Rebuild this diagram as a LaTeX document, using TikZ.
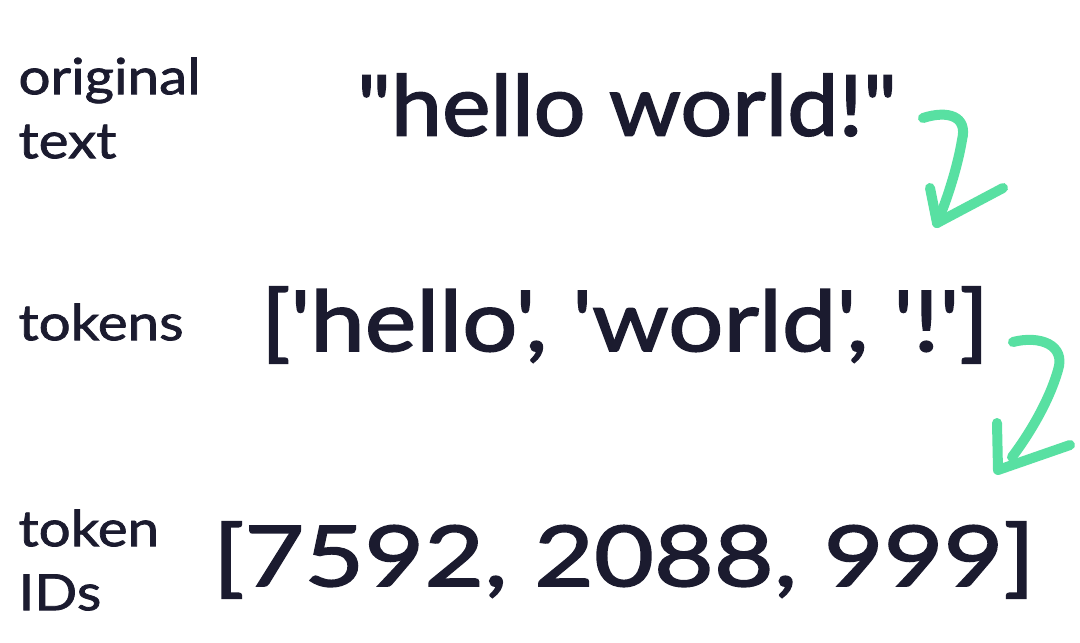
\documentclass[tikz,border=0pt]{standalone}
\usepackage{fontspec}
\newfontfamily\hand{Lato}[FakeStretch=1.13,FakeBold=1.5]
\newfontfamily\handquote{Lato}[FakeStretch=1.09,FakeBold=2]
\newfontfamily\handtok{Lato}[FakeStretch=1.16,FakeBold=2]
\newfontfamily\handid{Lato}[FakeStretch=1.23,FakeBold=2]
\definecolor{ink}{HTML}{1B1B2F}
\definecolor{mint}{HTML}{58E0A2}

\begin{document}
\begin{tikzpicture}[x=1pt,y=-1pt,
  tag/.style={anchor=west,align=left,text=ink,font=\hand\fontsize{50}{64}\selectfont},
  seq/.style={text=ink,font=\fontsize{84}{90}\selectfont},
  squiggle/.style={draw=mint,line width=10pt,line cap=round,line join=round}]
  \useasboundingbox [fill=white] (0,0) rectangle (1080,643);

  % left column labels
  \node [tag] (origlab) at (15,108) {original\\text};
  \node [tag] (toklab) at (15,322) {tokens};
  \node [tag] (idlab) at (15,560) {token\\IDs};

  % the three stages
  \node [seq] (hello) at (627,105) {\handquote "hello world!"};
  \node [seq] (toks) at (625,325) {\handtok ['hello', 'world', '!']};
  \node [seq] (ids) at (624,560) {\handid [7592, 2088, 999]};

  % hand drawn arrows
  \coordinate (a1s) at (923,118);
  \coordinate (a1t) at (937,223);
  \draw [squiggle] (a1s) .. controls (948,110) and (968,116) .. (962,140)
    .. controls (957,170) and (945,205) .. (a1t);
  \draw [squiggle] (930,188) -- (a1t) -- (1003,188);

  \coordinate (a2s) at (1013,342);
  \coordinate (a2t) at (998,470);
  \draw [squiggle] (a2s) .. controls (1040,335) and (1066,345) .. (1058,370)
    .. controls (1048,405) and (1025,440) .. (1012,457);
  \draw [squiggle] (997,423) -- (a2t) -- (1070,445);

\end{tikzpicture}
\end{document}
